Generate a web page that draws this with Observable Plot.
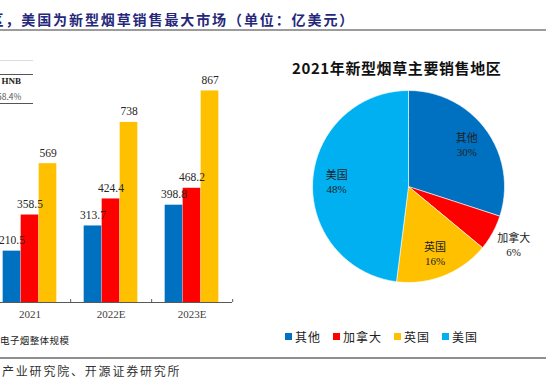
<!DOCTYPE html>
<html>
<head>
<meta charset="utf-8">
<script src="https://cdn.jsdelivr.net/npm/d3@7"></script>
<script src="https://cdn.jsdelivr.net/npm/@observablehq/plot@0.6"></script>
<style>
  body { margin: 0; background: #fff; }
  #root { position: relative; width: 546px; height: 388px; overflow: hidden; background: #fff; }
  .abs { position: absolute; white-space: nowrap; }
  .cjk { font-family: "Noto Sans CJK SC", "Noto Sans", sans-serif; }
  .serif { font-family: "Liberation Serif", "Noto Sans CJK SC", serif; }
</style>
</head>
<body>
<div id="root">
  <div class="abs cjk" style="left:-10.5px;top:11px;font-size:14px;line-height:16px;font-weight:700;letter-spacing:1.9px;color:#25287a;">区，美国为新型烟草销售最大市场（单位：亿美元）</div>
  <div class="abs" style="left:0;top:28.5px;width:546px;height:2px;background:#9c9c9c;"></div>

  <!-- fragment of a neighbouring table, cut by the crop -->
  <div class="abs" style="left:0;top:60px;width:33px;height:1px;background:#dcdcdc;"></div>
  <div class="abs" style="left:0;top:73.5px;width:33px;height:1.5px;background:#555;"></div>
  <div class="abs serif" style="left:1.5px;top:76px;font-size:9px;line-height:10px;font-weight:700;color:#222;">HNB</div>
  <div class="abs cjk" style="left:-3px;top:91px;font-size:8.5px;line-height:10px;color:#555;">58.4%</div>
  <div class="abs" style="left:0;top:102.5px;width:33px;height:1.5px;background:#555;"></div>

  <div id="bars" class="abs" style="left:-12px;top:40px;width:244px;height:284px;"></div>
  <div id="pie" class="abs" style="left:271.5px;top:49.5px;width:272px;height:272px;"></div>

  <div class="abs cjk" style="left:292px;top:59px;font-size:15px;line-height:17px;font-weight:700;letter-spacing:0.6px;color:#111;">2021年新型烟草主要销售地区</div>

  <div class="abs cjk" style="left:0;top:334px;font-size:9.5px;line-height:12px;letter-spacing:0.4px;color:#222;">电子烟整体规模</div>
  <div id="legend" class="abs cjk" style="left:285px;top:329px;display:flex;align-items:center;font-size:12px;line-height:15px;letter-spacing:1px;color:#222;"></div>

  <div class="abs" style="left:0;top:356.5px;width:546px;height:2px;background:#8f8f8f;"></div>
  <div class="abs cjk" style="left:2px;top:363px;font-size:12px;line-height:16px;letter-spacing:1.8px;color:#333;">产业研究院、开源证券研究所</div>
</div>
<script>
// ---- bar chart data (left, partially cropped) ----
const years = ["2021", "2022E", "2023E"];
const barSeries = ["series1", "series2", "series3"];
const series1 = [210.5, 313.7, 398.8];
const series2 = [358.5, 424.4, 468.2];
const series3 = [569, 738, 867];
const barColors = ["#0070C0", "#FF0000", "#FFC000"];

// ---- pie data (right) ----
const pieLabels = ["其他", "加拿大", "英国", "美国"];
const pieValues = [30, 6, 16, 48];
const pieColors = ["#0070C0", "#FF0000", "#FFC000", "#00B0F0"];

// ---------- bar chart ----------
const seriesValues = [series1, series2, series3];
const barData = years.flatMap((yr, i) => barSeries.map((s, j) => ({year: yr, series: s, value: seriesValues[j][i]})));
const W = 244, band = W / years.length, barW = 18;
const inset = (band - barW) / 2;
const barMarks = [];
barSeries.forEach((s, j) => {
  const sub = barData.filter(d => d.series === s);
  barMarks.push(Plot.barY(sub, {x: "year", y: "value", fill: "series", dx: (j - 1) * barW, insetLeft: inset, insetRight: inset}));
});
barSeries.forEach((s, j) => {
  const sub = barData.filter(d => d.series === s);
  barMarks.push(Plot.text(sub, {x: "year", y: "value", text: d => String(d.value), dx: (j - 1) * barW, dy: -7, lineAnchor: "bottom", fontSize: 11.5, fill: "#262626"}));
});
barMarks.push(Plot.ruleY([0], {stroke: "#595959", strokeWidth: 1}));
barMarks.push(Plot.ruleX(years, {x: d => d, dx: band / 2, y1: 0, y2: 12, stroke: "#595959", strokeWidth: 1}));

const barPlot = Plot.plot({
  width: W, height: 284,
  marginLeft: 0, marginRight: 0, marginTop: 18, marginBottom: 22,
  x: {domain: years, padding: 0, tickSize: 0, tickPadding: 8, label: null},
  y: {domain: [0, 1000], axis: null},
  color: {domain: barSeries, range: barColors},
  style: {background: "transparent", fontFamily: "Liberation Serif, serif", fontSize: "11px", color: "#404040", overflow: "visible"},
  marks: barMarks
});
document.getElementById("bars").appendChild(barPlot);

// ---------- pie chart (polar via azimuthal projection) ----------
const total = d3.sum(pieValues);
let acc = 0;
const slices = pieLabels.map((name, i) => {
  const a0 = acc / total * 360; acc += pieValues[i]; const a1 = acc / total * 360;
  const n = Math.max(2, Math.ceil((a1 - a0) / 4));
  const ring = [[180 - a0, 90]];
  for (let k = 0; k <= n; k++) ring.push([180 - (a0 + (a1 - a0) * k / n), 0]);
  ring.push([180 - a1, 90]);
  ring.push(ring[0]);
  let geom = {type: "Polygon", coordinates: [ring]};
  if (d3.geoArea(geom) > 2 * Math.PI) geom = {type: "Polygon", coordinates: [ring.slice().reverse()]};
  const mid = (a0 + a1) / 2;
  const r = pieValues[i] < 10 ? 1.25 : 0.75;
  return {name, value: pieValues[i], geom, lon: 180 - mid, lat: 90 * (1 - r)};
});

const piePlot = Plot.plot({
  width: 272, height: 272, margin: 40,
  projection: {type: "azimuthal-equidistant", rotate: [0, -90], domain: {type: "GeometryCollection", geometries: slices.map(s => s.geom)}, clip: false},
  color: {domain: pieLabels, range: pieColors},
  style: {background: "transparent", fontFamily: "Liberation Serif, 'Noto Sans CJK SC', serif", overflow: "visible"},
  marks: [
    Plot.geo(slices, {geometry: d => d.geom, fill: d => d.name, stroke: "white", strokeWidth: 0.6}),
    Plot.text(slices, {x: "lon", y: "lat", text: d => `${d.name}\n${d.value}%`, fontSize: 11, lineHeight: 1.27, fill: "#222"})
  ]
});
document.getElementById("pie").appendChild(piePlot);

// ---------- legend ----------
const legend = document.getElementById("legend");
pieLabels.forEach((name, i) => {
  const sw = document.createElement("span");
  sw.style.cssText = `display:inline-block;width:7px;height:7px;background:${pieColors[i]};margin-right:3px;`;
  const tx = document.createElement("span");
  tx.textContent = name;
  tx.style.marginRight = "12px";
  legend.appendChild(sw); legend.appendChild(tx);
});
</script>
</body>
</html>
